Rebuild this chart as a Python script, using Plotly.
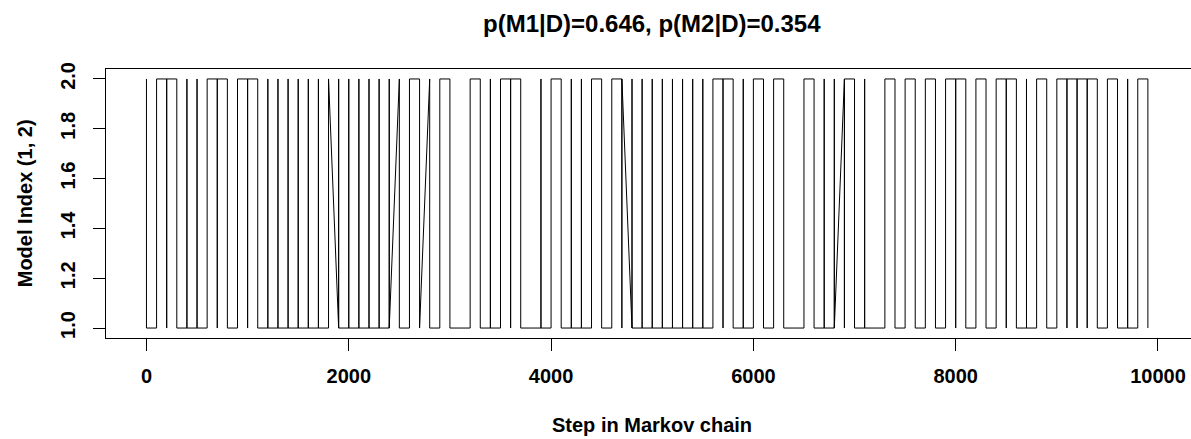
import plotly.graph_objects as go

# ---- data ----
thin_interval = 100  # steps between stored samples
# model index sequence visited inside each stored block (first ... last)
block_states = [
    "21", "12", "212", "21", "121", "121", "12", "212", "21", "12",
    "212", "21", "121", "121", "121", "121", "121", "121", "12", "121",
    "121", "121", "121", "121", "121", "21", "12", "21", "21", "12",
    "21", "1", "12", "21", "121", "12", "212", "21", "1", "121",
    "12", "21", "121", "121", "12", "21", "12", "212", "121", "121",
    "121", "121", "121", "121", "121", "121", "12", "212", "21", "121",
    "12", "21", "12", "21", "1", "12", "21", "121", "121", "212",
    "21", "121", "1", "12", "21", "12", "21", "12", "21", "12",
    "212", "21", "12", "21", "12", "212", "21", "121", "12", "21",
    "12", "212", "212", "212", "21", "12", "21", "121", "12", "21",
]
block_steps = list(range(0, thin_interval * len(block_states), thin_interval))
chain_length = 10000  # x extent of the chain used for the axis range

x_tick_values = [0, 2000, 4000, 6000, 8000, 10000]
x_tick_labels = ["0", "2000", "4000", "6000", "8000", "10000"]
y_tick_values = [1.0, 1.2, 1.4, 1.6, 1.8, 2.0]
y_tick_labels = ["1.0", "1.2", "1.4", "1.6", "1.8", "2.0"]

title_text = "p(M1|D)=0.646, p(M2|D)=0.354"
x_title = "Step in Markov chain"
y_title = "Model Index (1, 2)"

# ---- build the trace ----
xs, ys = [], []
for step, states in zip(block_steps, block_states):
    for ch in states:
        xs.append(step)
        ys.append(int(ch))

W, H = 1191, 439
# pixel geometry of the reference plot region
px_zero, px_per_step = 146.7, (1158.0 - 146.7) / 10000.0
x_pad = 0.04 * chain_length
L = px_zero - x_pad * px_per_step          # left frame edge
R = W                                      # frame runs past the right edge
T, B = 69.0, 337.7
x_range = [-x_pad, (R - px_zero) / px_per_step]
plot_center_px = px_zero + (chain_length / 2) * px_per_step

y_lo, y_hi = 1.0, 2.0
y_pad = 0.04 * (y_hi - y_lo)

FONT = "Liberation Sans, Arial, Helvetica, sans-serif"

fig = go.Figure(
    go.Scatter(
        x=xs, y=ys, mode="lines",
        line=dict(color="black", width=1),
        hoverinfo="skip",
    )
)

tick_style = dict(
    showgrid=False, zeroline=False,
    showline=True, linecolor="black", linewidth=1,
    ticks="outside", ticklen=12, tickwidth=1, tickcolor="black",
    tickfont=dict(family=FONT, size=20, color="black", weight="bold"),
)

fig.update_layout(
    width=W, height=H,
    margin=dict(l=L, r=W - R, t=T, b=H - B, pad=0),
    paper_bgcolor="white", plot_bgcolor="white",
    showlegend=False,
    font=dict(family=FONT, size=20, color="black"),
    xaxis=dict(
        range=x_range, mirror=True,
        tickmode="array", tickvals=x_tick_values, ticktext=x_tick_labels,
        ticklabelstandoff=8,
        **tick_style,
    ),
    yaxis=dict(
        range=[y_lo - y_pad, y_hi + y_pad], mirror=False,
        tickmode="array", tickvals=y_tick_values, ticktext=y_tick_labels,
        tickangle=-90, ticklabelstandoff=10,
        **tick_style,
    ),
    annotations=[
        dict(text="<b>" + title_text + "</b>", xref="paper", yref="paper",
             x=0, xshift=plot_center_px - L, y=1, yshift=T - 23,
             xanchor="center", yanchor="middle",
             showarrow=False, font=dict(family=FONT, size=24, color="black")),
        dict(text="<b>" + x_title + "</b>", xref="paper", yref="paper",
             x=0, xshift=plot_center_px - L, y=0, yshift=-(425 - B),
             xanchor="center", yanchor="middle",
             showarrow=False, font=dict(family=FONT, size=20, color="black")),
        dict(text="<b>" + y_title + "</b>", xref="paper", yref="paper",
             x=0, y=0.5, xshift=-(L - 25), textangle=-90,
             xanchor="center", yanchor="middle",
             showarrow=False, font=dict(family=FONT, size=20, color="black")),
    ],
)

fig.write_html(
    "out.html",
    config={"displayModeBar": False},
    post_script="document.body.style.margin='0';"
                "document.documentElement.style.overflow='hidden';",
)
